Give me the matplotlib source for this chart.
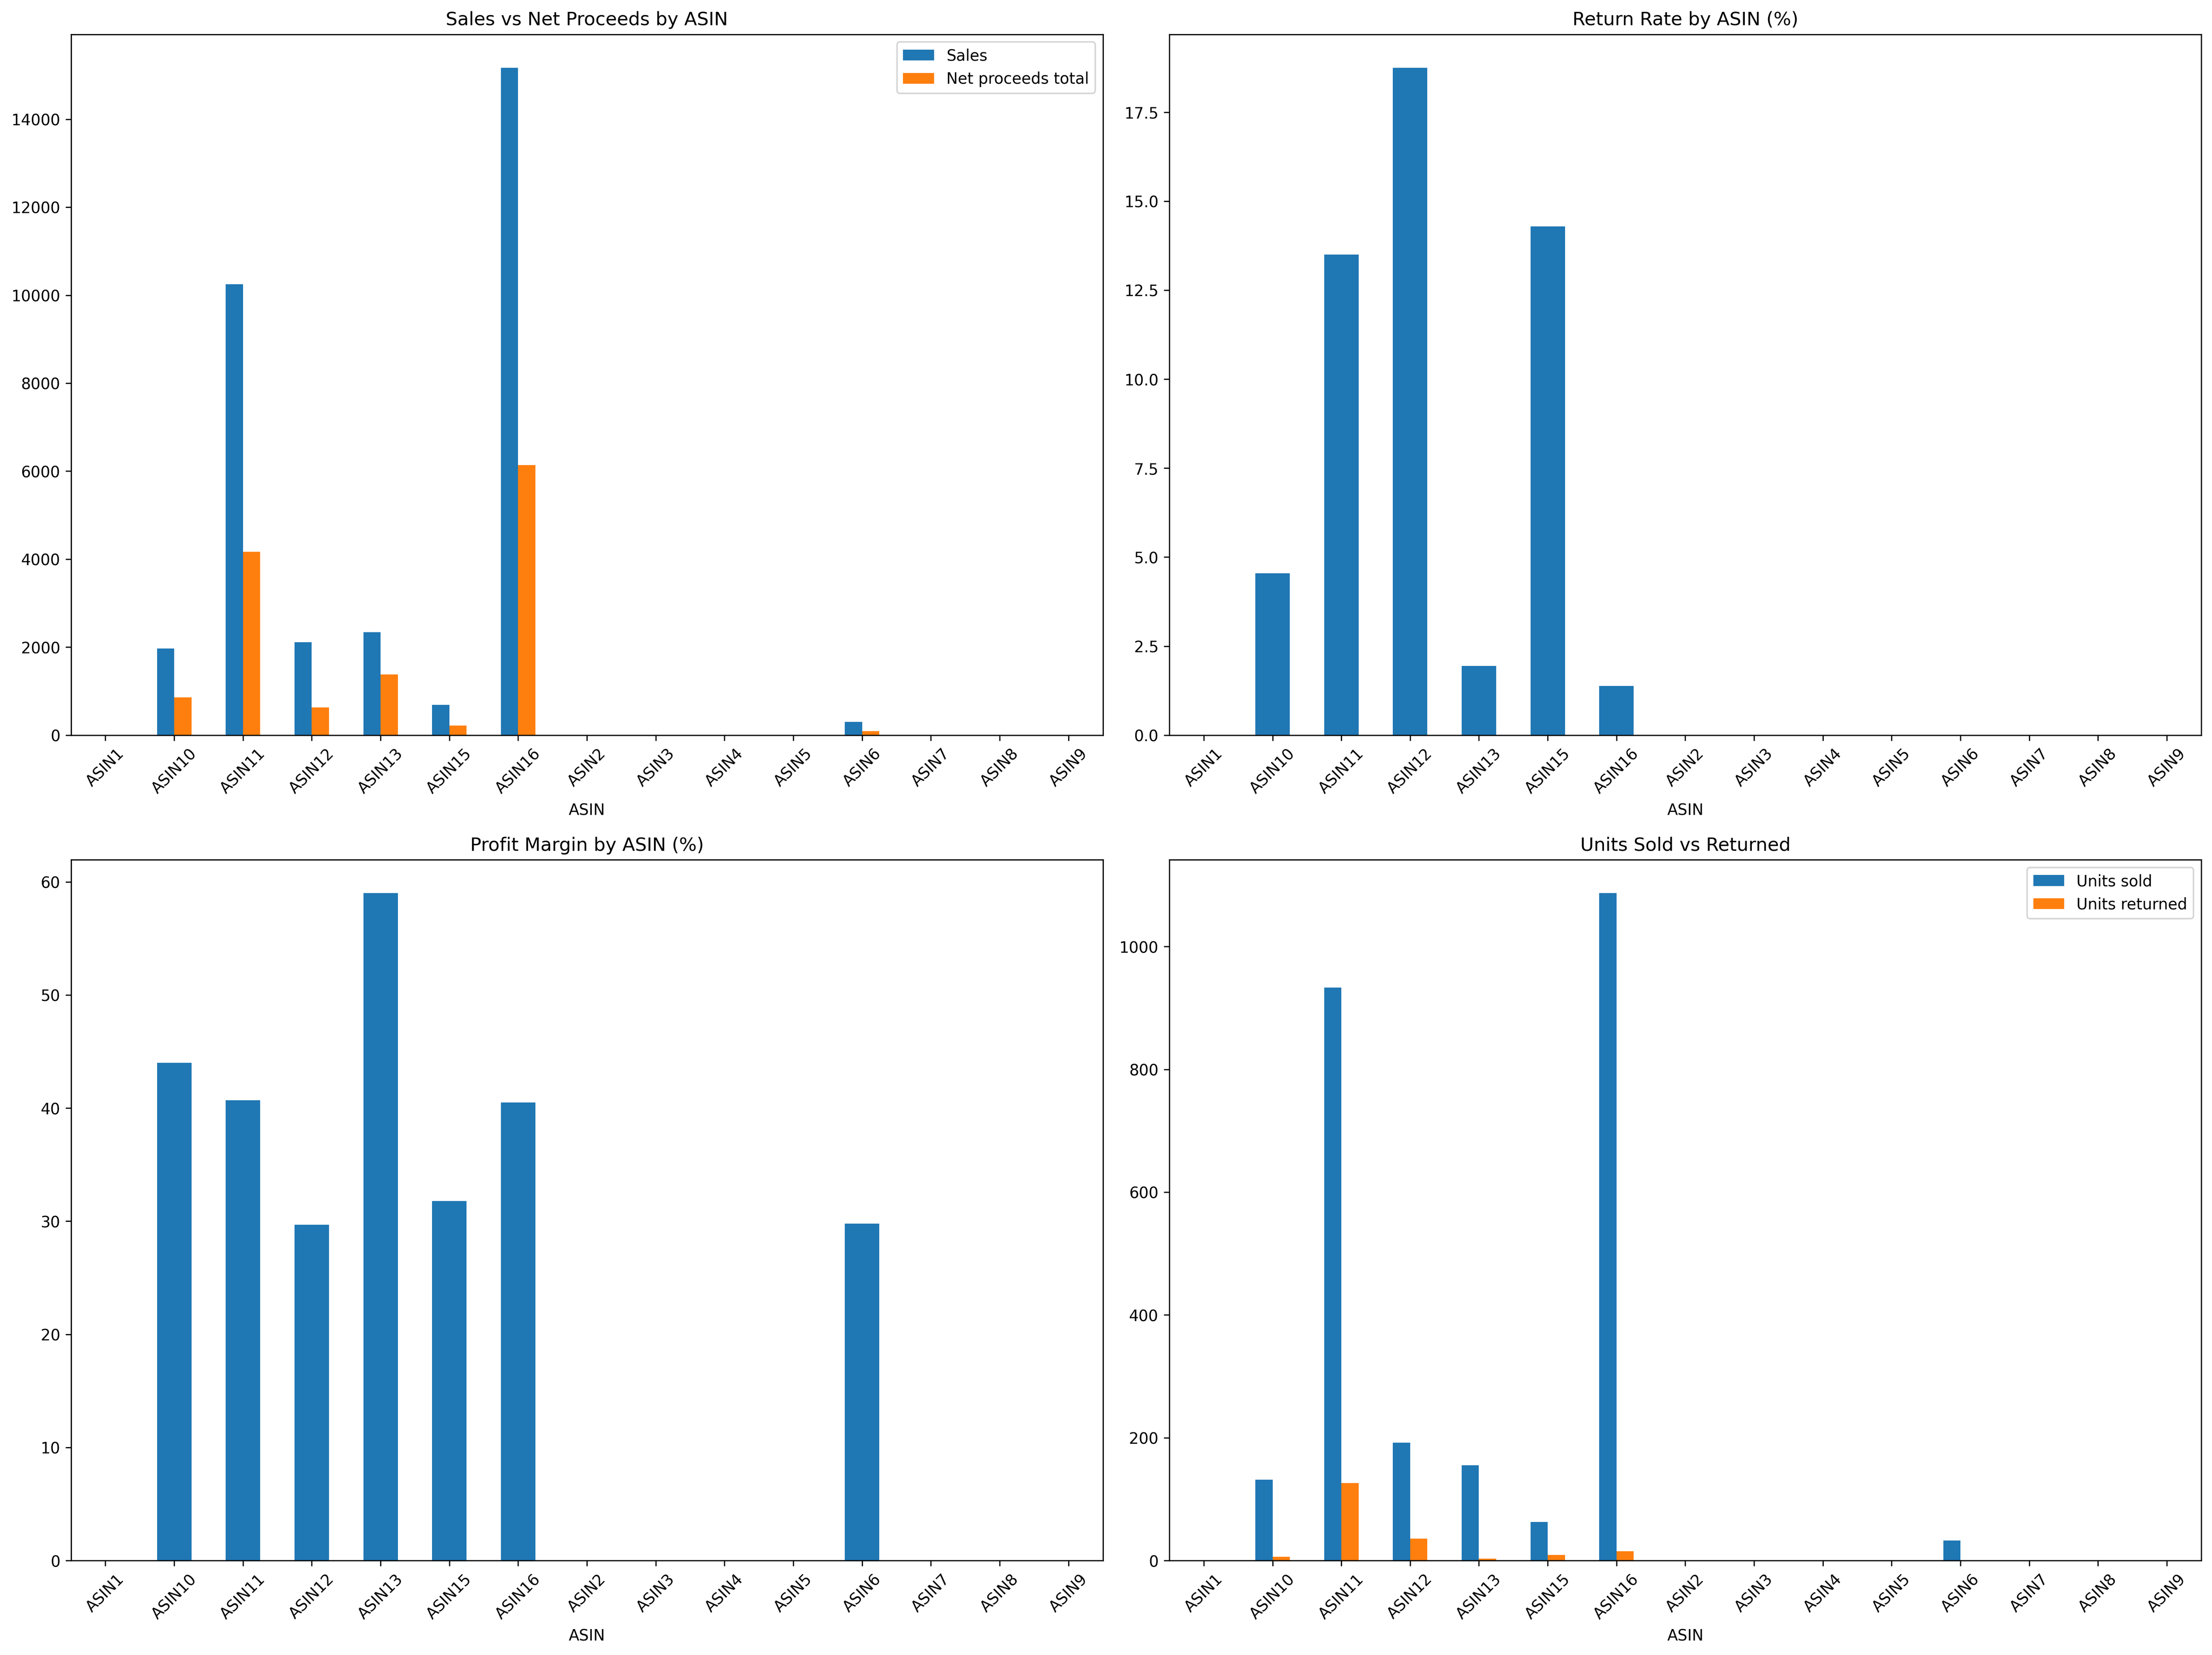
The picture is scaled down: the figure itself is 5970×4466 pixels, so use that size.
import pandas as pd
import matplotlib
matplotlib.use('Agg')
import matplotlib.pyplot as plt

# ASIN list (sorted as strings, as in the original)
asins = ['ASIN1', 'ASIN10', 'ASIN11', 'ASIN12', 'ASIN13', 'ASIN15', 'ASIN16',
         'ASIN2', 'ASIN3', 'ASIN4', 'ASIN5', 'ASIN6', 'ASIN7', 'ASIN8', 'ASIN9']

sales = [0, 1970, 10250, 2110, 2340, 690, 15170, 0, 0, 0, 0, 300, 0, 0, 0]
net_proceeds = [0, 860, 4170, 630, 1380, 220, 6140, 0, 0, 0, 0, 90, 0, 0, 0]
units_sold = [0, 132, 933, 192, 155, 63, 1087, 0, 0, 0, 0, 33, 0, 0, 0]
units_returned = [0, 6, 126, 36, 3, 9, 15, 0, 0, 0, 0, 0, 0, 0, 0]
return_rate = [0, 4.55, 13.5, 18.75, 1.94, 14.29, 1.38, 0, 0, 0, 0, 0, 0, 0, 0]
profit_margin = [0, 44.0, 40.7, 29.7, 59.0, 31.8, 40.5, 0, 0, 0, 0, 29.8, 0, 0, 0]

df = pd.DataFrame({
    'Sales': sales,
    'Net proceeds total': net_proceeds,
    'Units sold': units_sold,
    'Units returned': units_returned,
    'Return rate': return_rate,
    'Profit margin': profit_margin,
}, index=pd.Index(asins, name='ASIN'))

fig, axes = plt.subplots(2, 2, figsize=(20, 15))

df[['Sales', 'Net proceeds total']].plot(kind='bar', ax=axes[0, 0], rot=45)
axes[0, 0].set_title('Sales vs Net Proceeds by ASIN')

df['Return rate'].plot(kind='bar', ax=axes[0, 1], rot=45)
axes[0, 1].set_title('Return Rate by ASIN (%)')

df['Profit margin'].plot(kind='bar', ax=axes[1, 0], rot=45)
axes[1, 0].set_title('Profit Margin by ASIN (%)')

df[['Units sold', 'Units returned']].plot(kind='bar', ax=axes[1, 1], rot=45)
axes[1, 1].set_title('Units Sold vs Returned')

plt.tight_layout()
plt.savefig('out.png', dpi=300, bbox_inches='tight')
